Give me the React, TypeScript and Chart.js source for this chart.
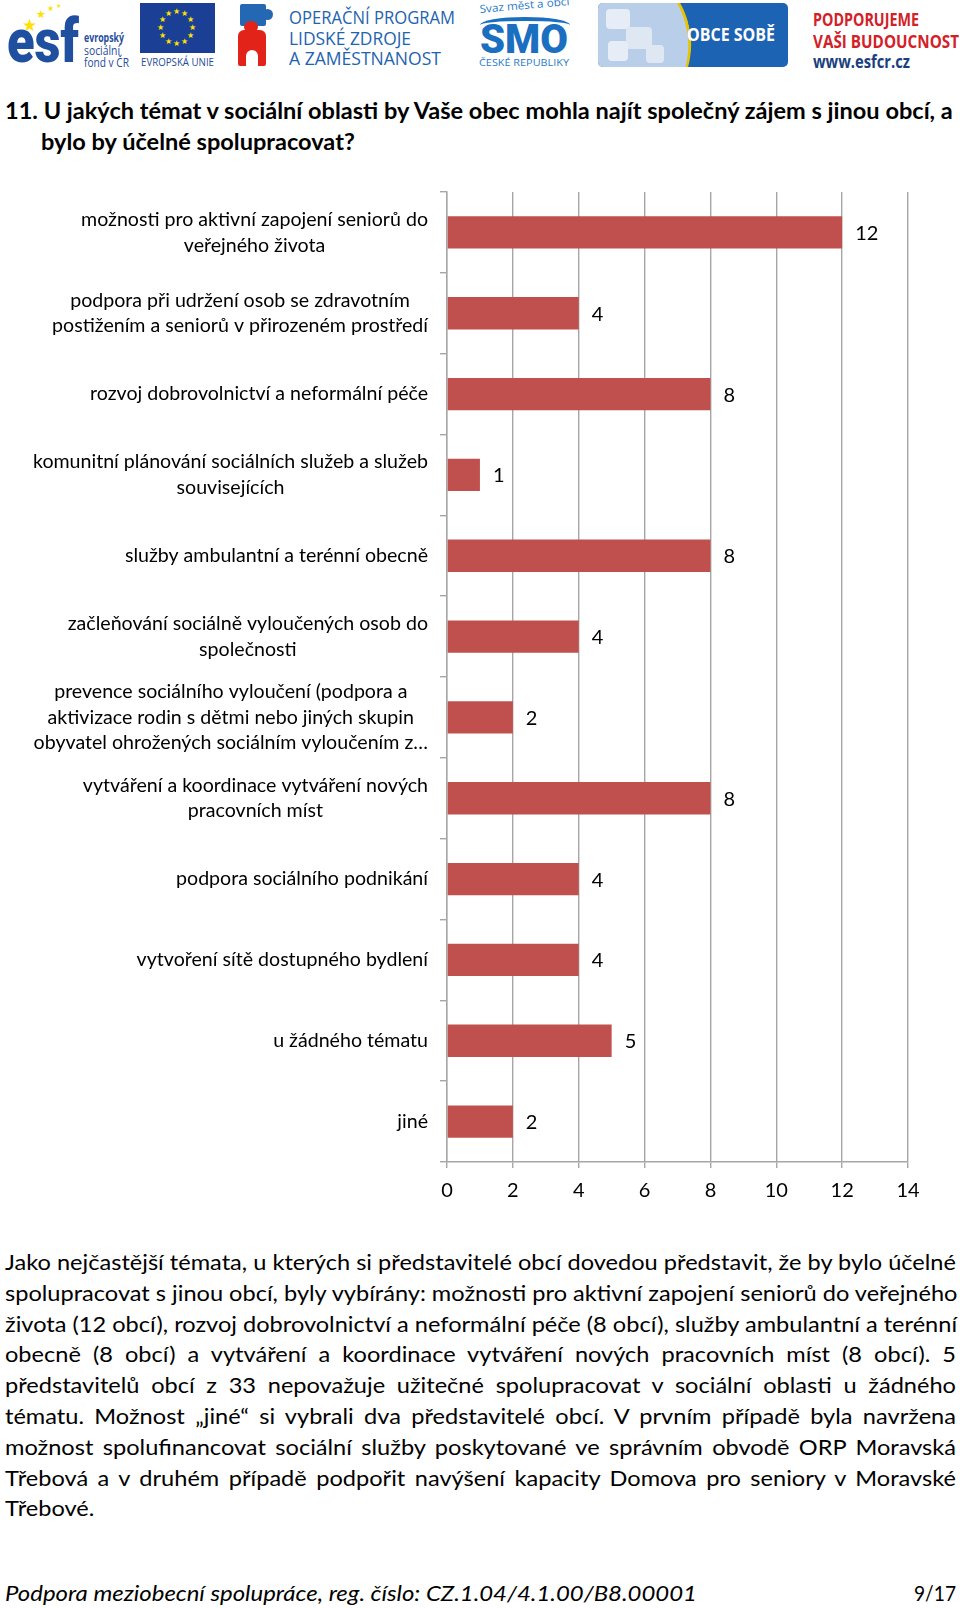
import React, { useEffect, useRef } from "react";
import { Chart, registerables } from "chart.js";

Chart.register(...registerables);

// ---------- DATA ----------
const categories: string[][] = [
  ["možnosti pro aktivní zapojení seniorů do", "veřejného života"],
  ["podpora při udržení osob se zdravotním", "postižením a seniorů v přirozeném prostředí"],
  ["rozvoj dobrovolnictví a neformální péče"],
  ["komunitní plánování sociálních služeb a služeb", "souvisejících"],
  ["služby ambulantní a terénní obecně"],
  ["začleňování sociálně vyloučených osob do", "společnosti"],
  [
    "prevence sociálního vyloučení (podpora a",
    "aktivizace rodin s dětmi nebo jiných skupin",
    "obyvatel ohrožených sociálním vyloučením z…",
  ],
  ["vytváření a koordinace vytváření nových", "pracovních míst"],
  ["podpora sociálního podnikání"],
  ["vytvoření sítě dostupného bydlení"],
  ["u žádného tématu"],
  ["jiné"],
];
const values: number[] = [12, 4, 8, 1, 8, 4, 2, 8, 4, 4, 5, 2];
const xMin = 0;
const xMax = 14;
const xStep = 2;

const titleLines: string[] = [
  "11. U jakých témat v sociální oblasti by Vaše obec mohla najít společný zájem s jinou obcí, a",
  "bylo by účelné spolupracovat?",
];
const bodyLines: string[] = [
  "Jako nejčastější témata, u kterých si představitelé obcí dovedou představit, že by bylo účelné",
  "spolupracovat s jinou obcí, byly vybírány: možnosti pro aktivní zapojení seniorů do veřejného",
  "života (12 obcí), rozvoj dobrovolnictví a neformální péče (8 obcí), služby ambulantní a terénní",
  "obecně (8 obcí) a vytváření a koordinace vytváření nových pracovních míst (8 obcí). 5",
  "představitelů obcí z 33 nepovažuje užitečné spolupracovat v sociální oblasti u žádného",
  "tématu. Možnost „jiné“ si vybrali dva představitelé obcí. V prvním případě byla navržena",
  "možnost spolufinancovat sociální služby poskytované ve správním obvodě ORP Moravská",
  "Třebová a v druhém případě podpořit navýšení kapacity Domova pro seniory v Moravské",
  "Třebové.",
];
const footerText = "Podpora meziobecní spolupráce, reg. číslo: CZ.1.04/4.1.00/B8.00001";
const pageText = "9/17";

// ---------- STYLE ----------
const BAR_COLOR = "#C0504D";
const GRID_COLOR = "#A6A6A6";
const FONT = "Lato, 'Open Sans', sans-serif";
const NARROW = "'Open Sans', Lato, sans-serif";

let measureCtx: CanvasRenderingContext2D | null = null;
function measure(text: string, font: string): number {
  if (!measureCtx) measureCtx = document.createElement("canvas").getContext("2d");
  measureCtx!.font = font;
  return measureCtx!.measureText(text).width;
}

function Fit(props: { text: string; font: string; width: number; left: number; top: number; lineHeight: number; color?: string; extra?: any }) {
  const w = measure(props.text, props.font);
  const s = props.width / w;
  return (
    <div
      style={{
        position: "absolute",
        left: props.left,
        top: props.top,
        font: props.font,
        lineHeight: props.lineHeight + "px",
        whiteSpace: "nowrap",
        color: props.color || "#000",
        transform: `scaleX(${s})`,
        transformOrigin: "left top",
        ...(props.extra || {}),
      }}
    >
      {props.text}
    </div>
  );
}

const categoryLabelPlugin = {
  id: "categoryLabels",
  afterDraw(chart: any) {
    const ctx = chart.ctx;
    const yScale = chart.scales.y;
    ctx.save();
    ctx.font = `19.6px ${FONT}`;
    ctx.fillStyle = "#000";
    ctx.textBaseline = "middle";
    ctx.textAlign = "center";
    const lineH = 25.6;
    categories.forEach((lines, i) => {
      const cy = yScale.getPixelForValue(i);
      const w = Math.max(...lines.map((l) => ctx.measureText(l).width));
      const cx = chart.chartArea.left - 19 - w / 2;
      lines.forEach((l, j) => {
        ctx.fillText(l, cx, cy + (j - (lines.length - 1) / 2) * lineH);
      });
    });
    ctx.restore();
  },
};

const valueLabelPlugin = {
  id: "valueLabels",
  afterDatasetsDraw(chart: any) {
    const ctx = chart.ctx;
    const meta = chart.getDatasetMeta(0);
    ctx.save();
    ctx.font = `20px ${FONT}`;
    ctx.fillStyle = "#000";
    ctx.textBaseline = "middle";
    ctx.textAlign = "left";
    meta.data.forEach((bar: any, i: number) => {
      ctx.fillText(String(values[i]), bar.x + 13, bar.y + 1);
    });
    ctx.restore();
  },
};

function BarChart() {
  const ref = useRef<HTMLCanvasElement | null>(null);
  useEffect(() => {
    if (!ref.current) return;
    const chart = new Chart(ref.current, {
      type: "bar",
      data: {
        labels: categories.map((c) => c.join(" ")),
        datasets: [
          {
            data: values,
            backgroundColor: BAR_COLOR,
            borderWidth: 0,
            barPercentage: 0.4,
            categoryPercentage: 1,
          },
        ],
      },
      options: {
        indexAxis: "y",
        responsive: false,
        animation: false,
        devicePixelRatio: 1,
        layout: { padding: { left: 0, right: 52, top: 12, bottom: 0 } },
        plugins: {
          legend: { display: false },
          tooltip: { enabled: false },
        },
        scales: {
          x: {
            min: xMin,
            max: xMax,
            ticks: {
              stepSize: xStep,
              color: "#000",
              font: { family: FONT, size: 20 },
              padding: 11,
            },
            grid: {
              color: GRID_COLOR,
              lineWidth: 1.4,
              tickLength: 6,
            },
            border: { color: GRID_COLOR, width: 1.4 },
            afterFit: (scale: any) => {
              scale.height = 48;
            },
          },
          y: {
            ticks: { display: false },
            grid: {
              drawOnChartArea: false,
              drawTicks: true,
              tickLength: 7,
              color: GRID_COLOR,
              lineWidth: 1.4,
              offset: true,
            },
            border: { color: GRID_COLOR, width: 1.4 },
            afterFit: (scale: any) => {
              scale.width = 447;
            },
          },
        },
      },
      plugins: [categoryLabelPlugin, valueLabelPlugin],
    } as any);
    return () => chart.destroy();
  }, []);
  return (
    <canvas
      ref={ref}
      width={960}
      height={1030}
      style={{ position: "absolute", left: 0, top: 180, width: 960, height: 1030 }}
    />
  );
}

function EuFlag() {
  const stars = Array.from({ length: 12 }, (_, i) => {
    const a = (i / 12) * Math.PI * 2;
    return { x: 37 + Math.cos(a) * 16, y: 24 + Math.sin(a) * 16 };
  });
  return (
    <div style={{ position: "absolute", left: 140, top: 3, width: 75, height: 50, background: "#1a3f95" }}>
      {stars.map((s, i) => (
        <span
          key={i}
          style={{
            position: "absolute",
            left: s.x - 4,
            top: s.y - 5,
            color: "#ffe100",
            fontSize: 8,
            lineHeight: "10px",
          }}
        >
          ★
        </span>
      ))}
    </div>
  );
}

function Header() {
  const blue = "#1e63b0";
  return (
    <div style={{ position: "absolute", left: 0, top: 0, width: 960, height: 70 }}>
      {/* esf */}
      <Fit text="esf" font={`900 62px Roboto, sans-serif`} width={72} left={7} top={13} lineHeight={56} color="#1f4f9f" />
      <span style={{ position: "absolute", left: 22, top: 16, color: "#ffe100", fontSize: 17, lineHeight: "17px" }}>★</span>
      <span style={{ position: "absolute", left: 36, top: 8, color: "#ffe100", fontSize: 11, lineHeight: "11px" }}>★</span>
      <span style={{ position: "absolute", left: 47, top: 4, color: "#ffe100", fontSize: 8, lineHeight: "8px" }}>★</span>
      <span style={{ position: "absolute", left: 56, top: 3, color: "#ffe100", fontSize: 6, lineHeight: "6px" }}>★</span>
      <Fit text="evropský" font={`bold 12px ${NARROW}`} width={40} left={84} top={31} lineHeight={14} color="#264c9a" />
      <Fit text="sociální" font={`12px ${NARROW}`} width={36} left={84} top={44} lineHeight={14} color="#264c9a" />
      <Fit text="fond v ČR" font={`12px ${NARROW}`} width={45} left={84} top={56} lineHeight={14} color="#264c9a" />
      <EuFlag />
      <Fit text="EVROPSKÁ UNIE" font={`10px ${NARROW}`} width={73} left={141} top={56} lineHeight={12} color="#264c9a" />
      {/* OP LZZ icon */}
      <div style={{ position: "absolute", left: 240, top: 4, width: 26, height: 22, background: "#2468b4", borderRadius: 2 }} />
      <div style={{ position: "absolute", left: 262, top: 9, width: 11, height: 11, background: "#2468b4", borderRadius: "50%" }} />
      <div style={{ position: "absolute", left: 244, top: 21, width: 14, height: 12, background: "#e2231a", borderRadius: "50%" }} />
      <div style={{ position: "absolute", left: 238, top: 30, width: 28, height: 36, background: "#e2231a", borderRadius: "6px 6px 2px 2px" }} />
      <div style={{ position: "absolute", left: 246, top: 50, width: 12, height: 16, background: "#fff", borderRadius: "6px 6px 0 0" }} />
      <Fit text="OPERAČNÍ PROGRAM" font={`18px ${NARROW}`} width={166} left={289} top={7} lineHeight={20} color={blue} />
      <Fit text="LIDSKÉ ZDROJE" font={`18px ${NARROW}`} width={122} left={289} top={28} lineHeight={20} color={blue} />
      <Fit text="A ZAMĚSTNANOST" font={`18px ${NARROW}`} width={152} left={289} top={48} lineHeight={20} color={blue} />
      {/* SMO */}
      <div style={{ position: "absolute", left: 479, top: 2, transform: "rotate(-5deg)", transformOrigin: "left top" }}>
        <Fit text="Svaz měst a obcí" font={`11px ${NARROW}`} width={90} left={0} top={0} lineHeight={13} color="#2a7bc8" />
      </div>
      <div style={{ position: "absolute", left: 480, top: 17, width: 90, height: 12, borderTop: "4px solid #1a6fc0", borderRadius: "50% 50% 0 0" }} />
      <Fit text="SMO" font={`900 40px Roboto, sans-serif`} width={88} left={480} top={20} lineHeight={40} color="#1a6fc0" />
      <Fit text="ČESKÉ REPUBLIKY" font={`9px ${NARROW}`} width={90} left={479} top={57} lineHeight={11} color="#2a7bc8" />
      {/* OBCE SOBĚ */}
      <div style={{ position: "absolute", left: 598, top: 3, width: 190, height: 64, borderRadius: 5, overflow: "hidden", background: "#1c63b3" }}>
        <div style={{ position: "absolute", left: -60, top: -40, width: 150, height: 160, background: "#b9cee8", borderRadius: "0 60% 60% 0", borderRight: "3px solid #e8c300", transform: "rotate(-12deg)" }} />
        <div style={{ position: "absolute", left: 8, top: 6, width: 24, height: 20, background: "#e6edf6", borderRadius: 4 }} />
        <div style={{ position: "absolute", left: 28, top: 24, width: 26, height: 22, background: "#dfe7f2", borderRadius: 4 }} />
        <div style={{ position: "absolute", left: 10, top: 38, width: 20, height: 20, background: "#e6edf6", borderRadius: 4 }} />
        <div style={{ position: "absolute", left: 48, top: 42, width: 18, height: 18, background: "#dfe7f2", borderRadius: 4 }} />
      </div>
      <Fit text="OBCE SOBĚ" font={`bold 17px ${NARROW}`} width={88} left={687} top={24} lineHeight={22} color="#fff" />
      {/* right */}
      <Fit text="PODPORUJEME" font={`bold 18px ${NARROW}`} width={106} left={813} top={8} lineHeight={22} color="#d42027" />
      <Fit text="VAŠI BUDOUCNOST" font={`bold 18px ${NARROW}`} width={146} left={813} top={30} lineHeight={22} color="#d42027" />
      <Fit text="www.esfcr.cz" font={`bold 17px ${NARROW}`} width={97} left={813} top={51} lineHeight={22} color="#1b3f7e" />
    </div>
  );
}

function Body() {
  const font = `22px ${FONT}`;
  const s = 951 / measure(bodyLines[0], font);
  const innerW = 951 / s;
  return (
    <div
      style={{
        position: "absolute",
        left: 5,
        top: 1247,
        width: innerW,
        font,
        transform: `scaleX(${s})`,
        transformOrigin: "left top",
      }}
    >
      {bodyLines.map((l, i) => {
        const last = i === bodyLines.length - 1;
        return (
          <div
            key={i}
            style={{
              width: innerW,
              whiteSpace: "nowrap",
              textAlign: last ? "left" : "justify",
              textAlignLast: last ? "left" : "justify",
              height: 30.8,
              lineHeight: "30.8px",
            }}
          >
            {l}
          </div>
        );
      })}
    </div>
  );
}

function Title() {
  const font = `bold 22px ${FONT}`;
  const s = 951 / measure(titleLines[0], font);
  return (
    <div style={{ position: "absolute", left: 5, top: 96, font, lineHeight: "30.5px", transform: `scaleX(${s})`, transformOrigin: "left top", whiteSpace: "nowrap" }}>
      <div>{titleLines[0]}</div>
      <div style={{ paddingLeft: 36 / s }}>{titleLines[1]}</div>
    </div>
  );
}

export default function App() {
  return (
    <div style={{ position: "absolute", left: 0, top: 0, width: 960, height: 1608, background: "#fff", overflow: "hidden", fontFamily: FONT, color: "#000" }}>
      <Header />
      <Title />
      <BarChart />
      <Body />
      <Fit text={footerText} font={`italic 22px ${FONT}`} width={692} left={5} top={1578} lineHeight={30} />
      <Fit text={pageText} font={`22px ${FONT}`} width={42} left={914} top={1578} lineHeight={30} />
    </div>
  );
}
